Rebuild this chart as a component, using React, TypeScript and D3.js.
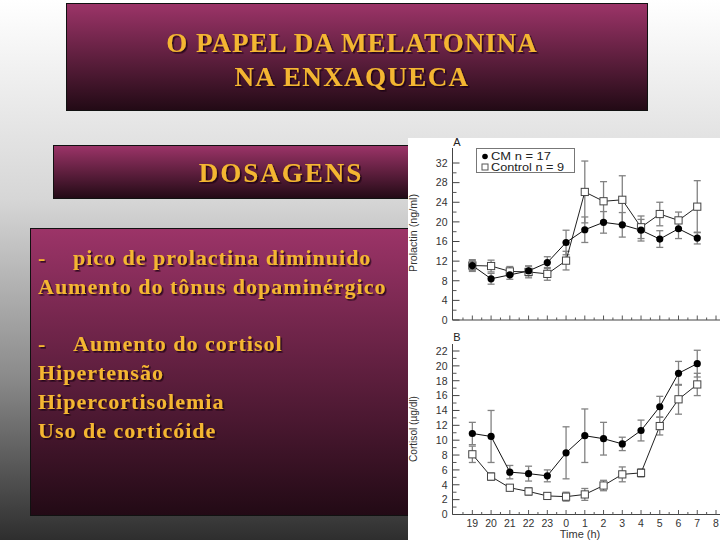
import React from 'react';
import * as d3 from 'd3';

// slide text
const titleLines = ['O PAPEL DA MELATONINA', 'NA ENXAQUECA'];
const sectionTitle = 'DOSAGENS';
const bodyLines = [
  { dash: true, text: 'pico de prolactina diminuido' },
  { dash: false, text: 'Aumento do tônus dopaminérgico' },
  null,
  { dash: true, text: 'Aumento do cortisol' },
  { dash: false, text: 'Hipertensão' },
  { dash: false, text: 'Hipercortisolemia' },
  { dash: false, text: 'Uso de corticóide' },
];

// chart data (hour of night, 19h .. 7h)
const hours = ['19', '20', '21', '22', '23', '0', '1', '2', '3', '4', '5', '6', '7', '8'];

const prolactinCM = [11.1, 8.4, 9.2, 10.0, 11.7, 15.8, 18.4, 19.9, 19.4, 18.3, 16.5, 18.6, 16.7];
const prolactinCMErr = [1.0, 1.1, 0.9, 1.0, 1.2, 2.5, 2.6, 2.2, 2.5, 2.2, 1.7, 2.0, 1.2];
const prolactinCtrl = [11.1, 11.0, 9.9, 9.8, 9.4, 12.1, 26.1, 24.2, 24.5, 18.9, 21.6, 20.3, 23.1];
const prolactinCtrlErr = [1.2, 1.2, 1.0, 1.2, 1.3, 1.9, 6.3, 4.0, 4.9, 2.3, 2.4, 1.7, 5.3];

const cortisolCM = [10.9, 10.5, 5.7, 5.5, 5.2, 8.3, 10.6, 10.2, 9.5, 11.3, 14.5, 19.0, 20.3];
const cortisolCMErr = [1.5, 3.5, 0.9, 1.0, 0.8, 3.5, 3.6, 2.2, 0.9, 1.4, 1.4, 1.6, 1.8];
const cortisolCtrl = [8.1, 5.1, 3.6, 3.1, 2.5, 2.4, 2.7, 3.9, 5.4, 5.6, 11.9, 15.5, 17.5];
const cortisolCtrlErr = [1.1, 0.5, 0.3, 0.5, 0.4, 0.6, 0.8, 0.7, 1.0, 0.55, 1.2, 2.0, 1.5];

const prolactinTicks = [0, 4, 8, 12, 16, 20, 24, 28, 32];
const cortisolTicks = [0, 2, 4, 6, 8, 10, 12, 14, 16, 18, 20, 22];

const legendLabels = ['CM n = 17', 'Control n = 9'];

const GOLD = '#f4b630';
const SERIF = '"Liberation Serif", "DejaVu Serif", "Noto Serif", "FreeSerif", serif';
const SANS = '"Liberation Sans", Arial, sans-serif';

const x = d3.scaleLinear().domain([-1, 13]).range([453.6, 716]);
const axisX = 452.5;

function GoldText({ x, y, size, anchor = 'start', spacing = 0, children }: any) {
  return (
    <text
      x={x}
      y={y}
      fill={GOLD}
      filter="url(#shadow)"
      textAnchor={anchor}
      style={{ fontFamily: SERIF, fontWeight: 700, fontSize: size, letterSpacing: spacing }}
    >
      {children}
    </text>
  );
}

function Panel({ y, cm, cmErr, ctrl, ctrlErr, ticks, minorStep, yTop, label, labelLen, labelY, letter, letterY, showXLabels }: any) {
  const y0 = y(0);
  const yMax = ticks[ticks.length - 1];
  const minor = d3.range(minorStep, yMax + 0.01, minorStep).filter((v: number) => !ticks.includes(v));
  const xTicks = d3.range(-0.5, 13.01, 0.5);
  const line = d3.line<number>().x((_, i) => x(i)).y((d) => y(d));

  const errBars = (vals: number[], errs: number[]) =>
    vals.map((v, i) => {
      const cx = x(i);
      const t = y(v + errs[i]);
      const b = y(v - errs[i]);
      return (
        <g key={i} stroke="#828282" strokeWidth={1.3}>
          <line x1={cx} x2={cx} y1={t} y2={b} />
          <line x1={cx - 3.5} x2={cx + 3.5} y1={t} y2={t} />
          <line x1={cx - 3.5} x2={cx + 3.5} y1={b} y2={b} />
        </g>
      );
    });

  return (
    <g>
      {/* axes */}
      <line x1={axisX} x2={axisX} y1={yTop} y2={y0} stroke="#444" strokeWidth={1} />
      <line x1={axisX} x2={720} y1={y0} y2={y0} stroke="#444" strokeWidth={1} />
      {ticks.map((v: number) => (
        <g key={v}>
          <line x1={axisX} x2={axisX + 7} y1={y(v)} y2={y(v)} stroke="#444" />
          <text x={axisX - 5} y={y(v) + 3.8} fontFamily={SANS} fontSize={10.5} fill="#333" textAnchor="end">{v}</text>
        </g>
      ))}
      {minor.map((v: number) => (
        <line key={v} x1={axisX} x2={axisX + 4} y1={y(v)} y2={y(v)} stroke="#555" />
      ))}
      {xTicks.map((t: number) => (
        <line key={t} x1={x(t)} x2={x(t)} y1={y0} y2={y0 - (Number.isInteger(t) ? 4.5 : 2.5)} stroke="#555" />
      ))}
      {showXLabels && hours.map((h, i) => (
        <text key={h + i} x={x(i)} y={y0 + 12} fontFamily={SANS} fontSize={10.5} fill="#333" textAnchor="middle">{h}</text>
      ))}
      <text
        transform={`translate(417,${labelY}) rotate(-90)`}
        fontFamily={SANS}
        fontSize={11}
        fill="#333"
        textAnchor="middle"
        textLength={labelLen}
        lengthAdjust="spacingAndGlyphs"
      >
        {label}
      </text>
      <text x={457} y={letterY} fontFamily={SANS} fontSize={11} fill="#222" textAnchor="middle">{letter}</text>

      {/* error bars */}
      {errBars(ctrl, ctrlErr)}
      {errBars(cm, cmErr)}

      {/* lines */}
      <path d={line(ctrl) || ''} fill="none" stroke="#222" strokeWidth={1} />
      <path d={line(cm) || ''} fill="none" stroke="#111" strokeWidth={1} />

      {/* markers */}
      {ctrl.map((v: number, i: number) => (
        <rect key={'s' + i} x={x(i) - 3.6} y={y(v) - 3.6} width={7.2} height={7.2} fill="#fff" stroke="#444" strokeWidth={1} />
      ))}
      {cm.map((v: number, i: number) => (
        <circle key={'c' + i} cx={x(i)} cy={y(v)} r={3.6} fill="#000" />
      ))}
    </g>
  );
}

export default function App() {
  const yProl = d3.scaleLinear().domain([0, 32]).range([320, 163]);
  const yCort = d3.scaleLinear().domain([0, 22]).range([514.5, 351]);

  return (
    <svg width={720} height={540} style={{ position: 'absolute', left: 0, top: 0 }}>
      <defs>
        <linearGradient id="bg" x1="0" y1="0" x2="0" y2="1">
          <stop offset="0%" stopColor="#ffffff" />
          <stop offset="37%" stopColor="#d6d6d6" />
          <stop offset="70%" stopColor="#8a8a8a" />
          <stop offset="100%" stopColor="#2e2e2e" />
        </linearGradient>
        <linearGradient id="box" x1="0" y1="0" x2="0" y2="1">
          <stop offset="0%" stopColor="#9c3468" />
          <stop offset="100%" stopColor="#220a15" />
        </linearGradient>
        <filter id="shadow" x="-5%" y="-20%" width="110%" height="150%">
          <feDropShadow dx={1.6} dy={1.6} stdDeviation={0.4} floodColor="#14040c" floodOpacity={0.8} />
        </filter>
        <clipPath id="chartClip">
          <rect x={408} y={138} width={312} height={402} />
        </clipPath>
      </defs>

      <rect x={0} y={0} width={720} height={540} fill="url(#bg)" />

      {/* title */}
      <rect x={66.5} y={3.5} width={581} height={107} fill="url(#box)" stroke="#111" />
      <GoldText x={352} y={52} size={27} anchor="middle" spacing={1}>{titleLines[0]}</GoldText>
      <GoldText x={352} y={86} size={27} anchor="middle" spacing={1.4}>{titleLines[1]}</GoldText>

      {/* section */}
      <rect x={53.5} y={145.5} width={360} height={53} fill="url(#box)" stroke="#111" />
      <GoldText x={281} y={182} size={27} anchor="middle" spacing={2}>{sectionTitle}</GoldText>

      {/* body */}
      <rect x={30.5} y={228.5} width={382} height={287} fill="url(#box)" stroke="#111" />
      {bodyLines.map((l, i) =>
        l ? (
          <g key={i}>
            {l.dash && <GoldText x={38} y={265 + i * 28.8} size={22}>-</GoldText>}
            <GoldText x={l.dash ? 73 : 38} y={265 + i * 28.8} size={22} spacing={1}>{l.text}</GoldText>
          </g>
        ) : null
      )}

      {/* chart image */}
      <g clipPath="url(#chartClip)">
        <rect x={408} y={138} width={312} height={402} fill="#fff" />
        <Panel
          y={yProl}
          cm={prolactinCM}
          cmErr={prolactinCMErr}
          ctrl={prolactinCtrl}
          ctrlErr={prolactinCtrlErr}
          ticks={prolactinTicks}
          minorStep={2}
          yTop={148}
          label="Prolactin (ng/ml)"
          labelLen={78}
          labelY={233}
          letter="A"
          letterY={145.5}
          showXLabels={false}
        />
        <Panel
          y={yCort}
          cm={cortisolCM}
          cmErr={cortisolCMErr}
          ctrl={cortisolCtrl}
          ctrlErr={cortisolCtrlErr}
          ticks={cortisolTicks}
          minorStep={1}
          yTop={344}
          label="Cortisol (µg/dl)"
          labelLen={66}
          labelY={429}
          letter="B"
          letterY={341}
          showXLabels={true}
        />
        <text x={580} y={538} fontFamily={SANS} fontSize={11} fill="#333" textAnchor="middle">Time (h)</text>

        {/* legend */}
        <rect x={476.5} y={148.5} width={98} height={24} fill="#fff" stroke="#777" />
        <circle cx={485} cy={156.5} r={2.8} fill="#000" />
        <text x={491} y={160} fontFamily={SANS} fontSize={10.8} fill="#222" textLength={60} lengthAdjust="spacingAndGlyphs">{legendLabels[0]}</text>
        <rect x={482} y={164} width={6} height={6} fill="#fff" stroke="#555" />
        <text x={491} y={171.2} fontFamily={SANS} fontSize={10.8} fill="#222" textLength={73} lengthAdjust="spacingAndGlyphs">{legendLabels[1]}</text>
      </g>
    </svg>
  );
}
